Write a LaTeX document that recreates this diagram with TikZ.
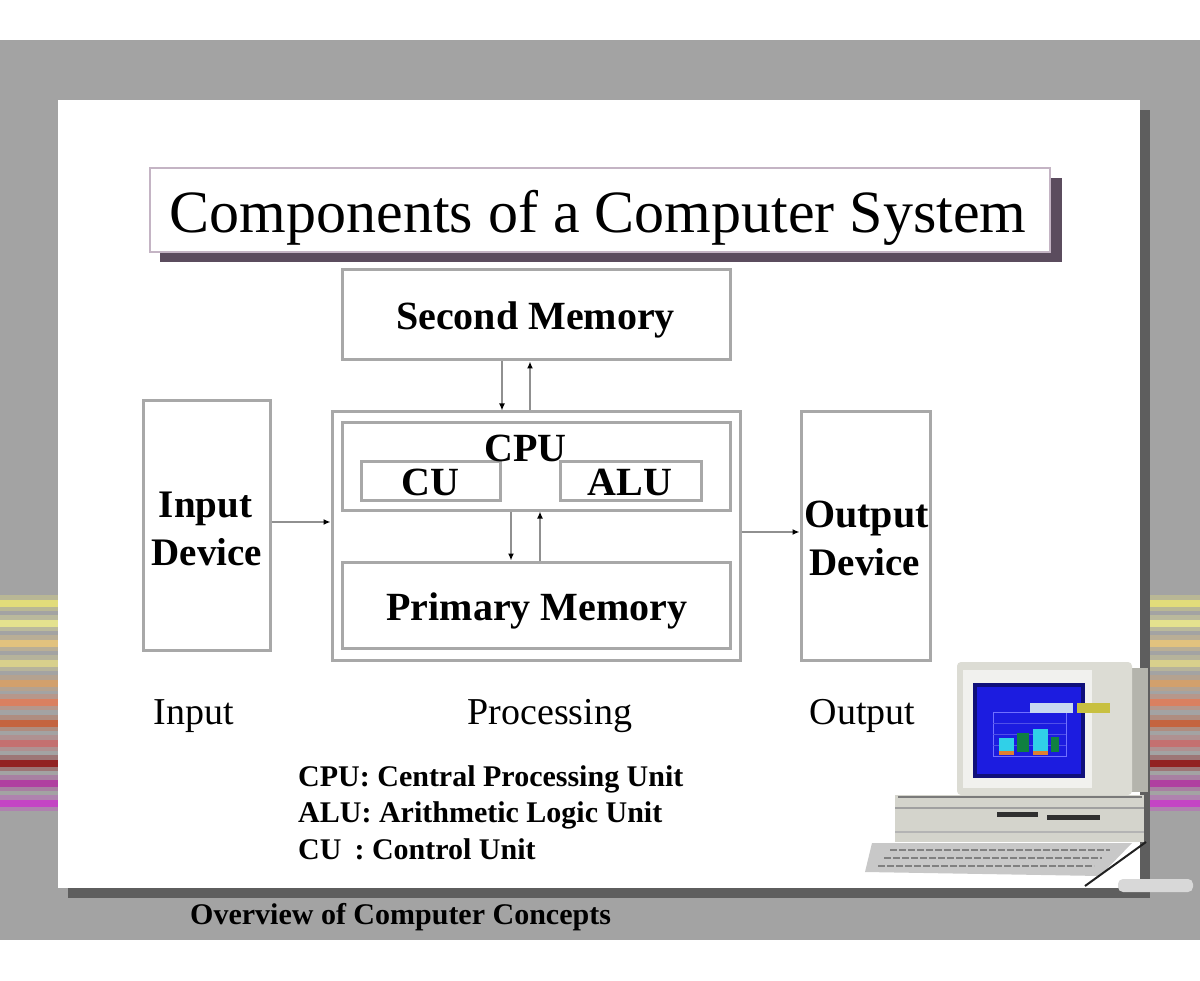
\documentclass[tikz,border=0pt]{standalone}
\usepackage{fontspec}
\setmainfont{Liberation Serif}
\usetikzlibrary{arrows.meta,calc}
\definecolor{bggray}{HTML}{A3A3A3}
\definecolor{shadowgray}{HTML}{5E5E5E}
\definecolor{titleshadow}{HTML}{5B4C5E}
\definecolor{titleborder}{HTML}{C4B4C4}
\definecolor{boxgray}{HTML}{A8A8A8}
\definecolor{arrgray}{HTML}{909090}
\definecolor{sA}{HTML}{E2DC7A}
\definecolor{sB}{HTML}{E4E28E}
\definecolor{sC}{HTML}{E2C27E}
\definecolor{sD}{HTML}{D8D08C}
\definecolor{sE}{HTML}{D2A06C}
\definecolor{sF}{HTML}{DA8060}
\definecolor{sG}{HTML}{C46440}
\definecolor{sH}{HTML}{C47070}
\definecolor{sI}{HTML}{922222}
\definecolor{sJ}{HTML}{B040A0}
\definecolor{sK}{HTML}{C444C4}
\definecolor{monlight}{HTML}{DCDCD4}
\definecolor{monside}{HTML}{B4B4AC}
\definecolor{baselight}{HTML}{D4D4CC}
\definecolor{scrdark}{HTML}{10107A}
\definecolor{scrblue}{HTML}{1C1CE0}
\definecolor{scraxis}{HTML}{7070FF}
\definecolor{scrgrid}{HTML}{5050E8}
\definecolor{barcyan}{HTML}{30D0E8}
\definecolor{bargreen}{HTML}{108040}
\definecolor{barorange}{HTML}{E08030}
\definecolor{scrtitle}{HTML}{C8D8F0}
\definecolor{scryellow}{HTML}{C8C040}
\definecolor{baseline1}{HTML}{7A7A7A}
\definecolor{baseline2}{HTML}{A0A0A0}
\definecolor{baseline3}{HTML}{B4B4B4}
\definecolor{slot}{HTML}{303030}
\definecolor{kbd}{HTML}{C8C8C8}
\definecolor{kbdkeys}{HTML}{808080}
\definecolor{kbdedge}{HTML}{202020}
\definecolor{cable}{HTML}{D8D8D8}
\begin{document}
\begin{tikzpicture}[x=1pt,y=-1pt,
  box/.style={draw=boxgray, line width=3pt, fill=white, inner sep=0pt},
  blbl/.style={font=\fontsize{40}{40}\selectfont\bfseries, inner sep=0pt, anchor=base},
  dlbl/.style={font=\fontsize{39}{39}\selectfont\bfseries, inner sep=0pt, anchor=base},
  plbl/.style={font=\fontsize{38}{38}\selectfont, inner sep=0pt, anchor=base},
  leg/.style={font=\fontsize{30}{30}\selectfont\bfseries, inner sep=0pt, anchor=base west},
  arr/.style={draw=arrgray, line width=2pt, -{Latex[length=7pt,width=6pt,color=black]}}
]
\useasboundingbox (0,0) rectangle (1200,981);
\fill[white] (0,0) rectangle (1200,981);
\fill[bggray] (0,40) rectangle (1200,940);
% side stripes
\foreach \yy/\cc in {603/sA,623/sB,643/sC,663/sD,683/sE,702/sF,723/sG,743/sH,763/sI,783/sJ,803/sK}{
  \fill[\cc!35!bggray] (0,\yy-8) rectangle (58,\yy+8);
  \fill[\cc!35!bggray] (1150,\yy-8) rectangle (1200,\yy+8);
  \fill[\cc] (0,\yy-3.5) rectangle (58,\yy+3.5);
  \fill[\cc] (1150,\yy-3.5) rectangle (1200,\yy+3.5);
}
% panel with shadow
\fill[shadowgray] (68,888) rectangle (1150,898);
\fill[shadowgray] (1140,110) rectangle (1150,898);
\fill[white] (58,100) rectangle (1140,888);
% title
\fill[titleshadow] (160,178) rectangle (1062,262);
\node[draw=titleborder, line width=2pt, fill=white, minimum width=900pt, minimum height=84pt, inner sep=0pt] (titlebox) at (600,210) {};
\node[font=\fontsize{60}{60}\selectfont, inner sep=0pt, anchor=base] (title) at (598,233) {Components of a Computer System};
% boxes
\node[box, minimum width=388pt, minimum height=90pt] (sm) at (536,315) {};
\node[box, minimum width=408pt, minimum height=248pt] (cpuo) at (536,536) {};
\node[box, minimum width=388pt, minimum height=87pt] (cpui) at (536,466.5) {};
\node[box, minimum width=139pt, minimum height=38pt] (cu) at (430.5,481) {};
\node[box, minimum width=141pt, minimum height=38pt] (alu) at (630.5,481) {};
\node[box, minimum width=388pt, minimum height=86pt] (pm) at (536,605) {};
\node[box, minimum width=127pt, minimum height=249pt] (inp) at (206.5,525.5) {};
\node[box, minimum width=129pt, minimum height=248pt] (outd) at (865.5,536) {};
% box texts
\node[blbl] (smt) at (535.5,330) {Second Memory};
\node[blbl] (cput) at (525.5,461) {CPU};
\node[blbl] (cut) at (430.5,495) {CU};
\node[blbl] (alut) at (630,495) {ALU};
\node[blbl] (pmt) at (537,620) {Primary Memory};
\node[dlbl] (inpt1) at (205.5,517) {Input};
\node[dlbl] (inpt2) at (207,565) {Device};
\node[blbl] (outt1) at (866.5,527) {Output};
\node[dlbl] (outt2) at (865,575) {Device};
% connectors
\draw[arr] ([xshift=-34pt]sm.south) -- ([xshift=-34pt]cpuo.north);
\draw[arr] ([xshift=-6pt]cpuo.north) -- ([xshift=-6pt]sm.south);
\draw[arr] ([xshift=-25pt]cpui.south) -- ([xshift=-25pt]pm.north);
\draw[arr] ([xshift=4pt]pm.north) -- ([xshift=4pt]cpui.south);
\coordinate (a1) at ([yshift=3.5pt]inp.east);
\draw[arr] (a1) -- (a1 -| cpuo.west);
\coordinate (a2) at ([yshift=4pt]cpuo.east);
\draw[arr] (a2) -- (a2 -| outd.west);
% stage labels
\node[plbl] (lin) at (194,724) {Input};
\node[plbl] (lproc) at (550,724) {Processing};
\node[plbl] (lout) at (862.5,724) {Output};
% legend
\node[leg] (leg1) at (298,786) {CPU: Central Processing Unit};
\node[leg] (leg2) at (298,822) {ALU: Arithmetic Logic Unit};
\node[leg] (leg3) at (298,859) {CU\hspace{13pt}: Control Unit};
% footer
\node[font=\fontsize{30}{30}\selectfont\bfseries, inner sep=0pt, anchor=base west] (footer) at (190,924) {Overview of Computer Concepts};
% computer clip art
\fill[monside] (1128,668) rectangle (1148,792);
\fill[monlight, rounded corners=4pt] (957,662) rectangle (1132,795);
\fill[white!60!monlight] (963,670) rectangle (1092,788);
\fill[scrdark] (973,683) rectangle (1085,778);
\fill[scrblue] (977,687) rectangle (1081,774);
\draw[scraxis, line width=0.8pt] (993,712) -- (993,756) -- (1066,756) -- (1066,712) -- cycle;
\foreach \gy in {723,734,745}{\draw[scrgrid, line width=0.6pt] (993,\gy) -- (1066,\gy);}
\fill[barcyan] (999,738) rectangle (1014,752);
\fill[bargreen] (1017,733) rectangle (1029,752);
\fill[barcyan] (1033,729) rectangle (1048,752);
\fill[bargreen] (1051,737) rectangle (1059,752);
\fill[barorange] (999,751) rectangle (1014,755);
\fill[barorange] (1033,751) rectangle (1048,755);
\fill[scrtitle] (1030,703) rectangle (1073,713);
\fill[scryellow] (1077,703) rectangle (1110,713);
\fill[baselight] (895,795) rectangle (1144,842);
\draw[baseline1, line width=2pt] (898,797) -- (1142,797);
\draw[baseline2, line width=1.5pt] (895,808) -- (1144,808);
\draw[baseline3, line width=1.5pt] (895,832) -- (1144,832);
\fill[slot] (997,812) rectangle (1038,817);
\fill[slot] (1047,815) rectangle (1100,820);
\fill[kbd] (872,843) -- (1132,843) -- (1100,876) -- (865,872) -- cycle;
\draw[kbdkeys, line width=2pt, dash pattern=on 7pt off 2pt] (890,850) -- (1110,850);
\draw[kbdkeys, line width=2pt, dash pattern=on 7pt off 2pt] (884,858) -- (1102,858);
\draw[kbdkeys, line width=2pt, dash pattern=on 7pt off 2pt] (878,866) -- (1094,866);
\draw[kbdedge, line width=2pt] (1085,886) -- (1146,842);
\fill[cable, rounded corners=5pt] (1118,879) rectangle (1193,892);
\end{tikzpicture}
\end{document}
